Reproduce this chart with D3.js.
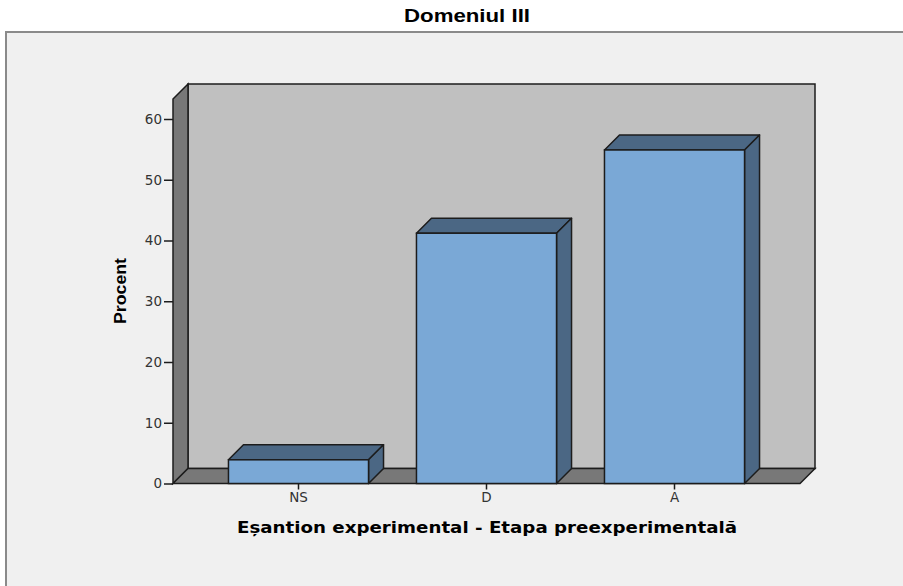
<!DOCTYPE html>
<html>
<head>
<meta charset="utf-8">
<script src="https://cdn.jsdelivr.net/npm/d3@7"></script>
<style>
  html, body { margin: 0; padding: 0; background: #ffffff; }
  svg { display: block; }
</style>
</head>
<body>
<svg id="chart" width="903" height="586"></svg>
<script>
// Percent of pupils per level, Domain III
const categories = ["NS", "D", "A"];
const percentValues = [3.9, 41.2, 54.9];
const yTicks = [0, 10, 20, 30, 40, 50, 60];
const chartTitle = "Domeniul III";
const xTitle = "Eșantion experimental - Etapa preexperimentală";
const yTitle = "Procent";

const svg = d3.select("#chart");
const W = 903, H = 586;

// 3D depth offset (right and up)
const depth = 15;

// Plot area (front plane)
const x0 = 173, x1 = 800;
const yBase = 483.5;

const y = d3.scaleLinear().domain([0, 60]).range([yBase, 119]);
const yTopVal = 63.3;

const x = d3.scaleBand()
  .domain(categories)
  .range([x0, x1])
  .paddingInner(0.255)
  .paddingOuter(0.295);

// outer frame
svg.append("rect").attr("x", 0).attr("y", 0).attr("width", W).attr("height", H).attr("fill", "#ffffff");
svg.append("rect")
  .attr("x", 6).attr("y", 32).attr("width", 1000).attr("height", 1000)
  .attr("fill", "#f0f0f0").attr("stroke", "#8a8a8a").attr("stroke-width", 2);

// title
svg.append("text")
  .attr("x", 467).attr("y", 22)
  .attr("text-anchor", "middle")
  .attr("font-family", "Liberation Sans, Arial, sans-serif")
  .attr("font-weight", "bold")
  .attr("font-size", 18)
  .attr("textLength", 126)
  .attr("lengthAdjust", "spacingAndGlyphs")
  .attr("fill", "#000")
  .text(chartTitle);

const edge = "#1c1c1c";
const poly = pts => "M" + pts.map(p => p.join(",")).join("L") + "Z";

const yT = y(yTopVal);

// back wall
svg.append("path")
  .attr("d", poly([[x0 + depth, yT - depth], [x1 + depth, yT - depth], [x1 + depth, yBase - depth], [x0 + depth, yBase - depth]]))
  .attr("fill", "#c0c0c0").attr("stroke", edge).attr("stroke-width", 1.5);

// left wall
svg.append("path")
  .attr("d", poly([[x0, yT], [x0 + depth, yT - depth], [x0 + depth, yBase - depth], [x0, yBase]]))
  .attr("fill", "#787878").attr("stroke", edge).attr("stroke-width", 1.5);

// floor
svg.append("path")
  .attr("d", poly([[x0, yBase], [x0 + depth, yBase - depth], [x1 + depth, yBase - depth], [x1, yBase]]))
  .attr("fill", "#787878").attr("stroke", edge).attr("stroke-width", 1.5);

// bars
const bars = svg.append("g");
categories.forEach((c, i) => {
  const bx = x(c), bw = x.bandwidth();
  const by = y(percentValues[i]);
  const g = bars.append("g");
  // top face
  g.append("path")
    .attr("d", poly([[bx, by], [bx + depth, by - depth], [bx + bw + depth, by - depth], [bx + bw, by]]))
    .attr("fill", "#4b6784").attr("stroke", edge).attr("stroke-width", 1.5).attr("stroke-linejoin", "round");
  // right side face
  g.append("path")
    .attr("d", poly([[bx + bw, by], [bx + bw + depth, by - depth], [bx + bw + depth, yBase - depth], [bx + bw, yBase]]))
    .attr("fill", "#4b6784").attr("stroke", edge).attr("stroke-width", 1.5).attr("stroke-linejoin", "round");
  // front face
  g.append("rect")
    .attr("x", bx).attr("y", by).attr("width", bw).attr("height", yBase - by)
    .attr("fill", "#7aa8d6").attr("stroke", edge).attr("stroke-width", 1.5);
});

// y axis
const yAxis = d3.axisLeft(y).tickValues(yTicks).tickSize(9).tickPadding(2).tickFormat(d3.format("d"));
const yg = svg.append("g").attr("transform", `translate(${x0},0)`).call(yAxis);
yg.select(".domain").remove();
yg.selectAll(".tick line").attr("stroke", "#1c1c1c").attr("stroke-width", 1.5);
yg.selectAll(".tick text")
  .attr("font-family", "DejaVu Sans, sans-serif")
  .attr("font-size", 13.5)
  .attr("fill", "#333");

// x axis
const xAxis = d3.axisBottom(x).tickSize(6).tickPadding(3);
const xg = svg.append("g").attr("transform", `translate(0,${yBase})`).call(xAxis);
xg.select(".domain").remove();
xg.selectAll(".tick line").attr("stroke", "#1c1c1c").attr("stroke-width", 1.5);
xg.selectAll(".tick text")
  .attr("font-family", "DejaVu Sans, sans-serif")
  .attr("font-size", 13.5)
  .attr("fill", "#333");

// axis titles
svg.append("text")
  .attr("x", 487).attr("y", 533)
  .attr("text-anchor", "middle")
  .attr("font-family", "DejaVu Sans, sans-serif")
  .attr("font-weight", "bold")
  .attr("font-size", 16)
  .attr("textLength", 500)
  .attr("lengthAdjust", "spacingAndGlyphs")
  .attr("fill", "#000")
  .text(xTitle);

svg.append("text")
  .attr("transform", "translate(126,291) rotate(-90)")
  .attr("text-anchor", "middle")
  .attr("font-family", "Liberation Sans, Arial, sans-serif")
  .attr("font-weight", "bold")
  .attr("font-size", 17)
  .attr("textLength", 66)
  .attr("lengthAdjust", "spacingAndGlyphs")
  .attr("fill", "#000")
  .text(yTitle);
</script>
</body>
</html>
